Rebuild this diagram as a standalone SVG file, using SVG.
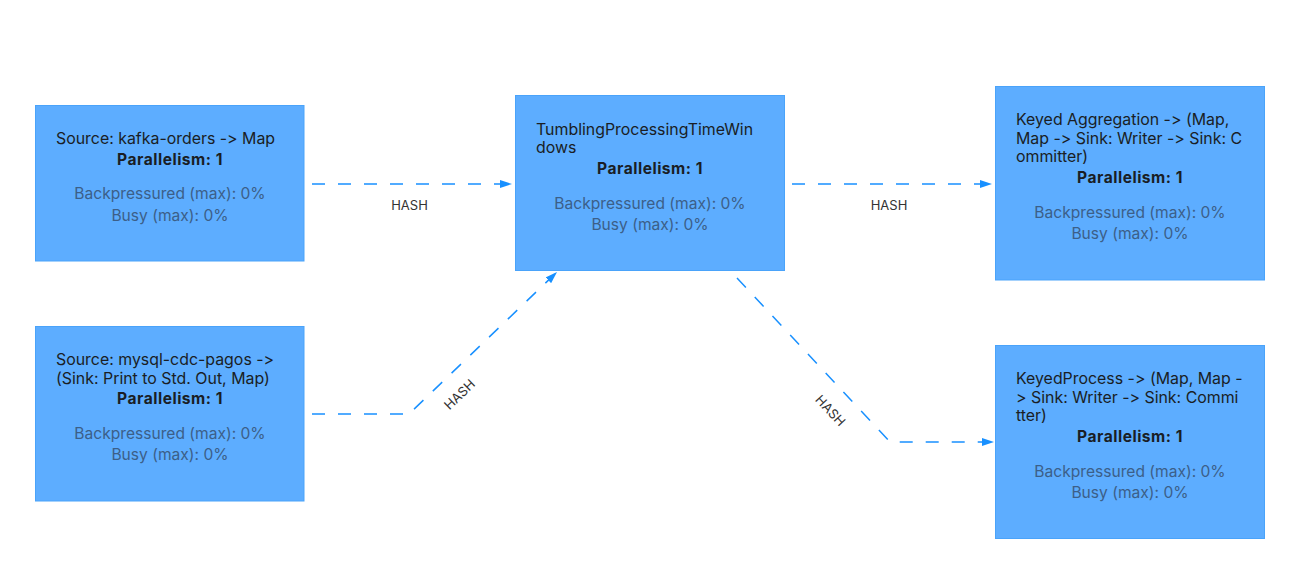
<svg xmlns="http://www.w3.org/2000/svg" width="1304" height="565" viewBox="0 0 1304 565">
<defs>
<marker id="arrow" markerUnits="userSpaceOnUse" markerWidth="12" markerHeight="8" refX="12" refY="4" orient="auto"><path d="M0,0 L12,4 L0,8 z" fill="#1890ff"/></marker>
</defs>
<style>
.node rect{fill:#5dadff;stroke:#4aa3fa;stroke-width:1}
.t{font-family:Inter,"Liberation Sans",sans-serif;font-size:15.6px;fill:#1a1e25;font-variant-ligatures:none;font-feature-settings:"calt" 0,"liga" 0}
.h{font-size:15.9px}
.p{font-weight:bold;text-anchor:middle;letter-spacing:0.5px}
.m{text-anchor:middle;fill:#3c5f88}
.edge{fill:none;stroke:#1890ff;stroke-width:1.5;stroke-dasharray:13 13;marker-end:url(#arrow)}
.lbl{font-family:Inter,"Liberation Sans",sans-serif;font-size:13px;fill:#333;text-anchor:middle}
</style>
<rect width="1304" height="565" fill="#fff"/>
<g id="connectors">
<path class="edge" d="M312,184 L512,184"/>
<path class="edge" d="M312,414 L409,414 L557,272"/>
<path class="edge" d="M792,184 L992,184"/>
<path class="edge" d="M737,278 L890,442 L994,442"/>
<text class="lbl" x="409.5" y="209.5">HASH</text>
<text class="lbl" x="889" y="209.5">HASH</text>
<text class="lbl" transform="translate(460,395) rotate(-44)" y="4">HASH</text>
<text class="lbl" transform="translate(830,411) rotate(47)" y="4">HASH</text>
</g>
<g id="node-kafka" class="node">
<rect x="35.5" y="105.5" width="268.5" height="155.5"/>
<text class="t h" x="56" y="144">Source: kafka-orders -&gt; Map</text>
<text class="t p" x="170" y="164.5">Parallelism: 1</text>
<text class="t m" x="170" y="199">Backpressured (max): 0%</text>
<text class="t m" x="170" y="220.5">Busy (max): 0%</text>
</g>
<g id="node-mysql" class="node">
<rect x="35.5" y="326.5" width="268.5" height="174.5"/>
<text class="t h" x="56" y="364.5">Source: mysql-cdc-pagos -&gt;</text>
<text class="t h" x="56" y="383.5">(Sink: Print to Std. Out, Map)</text>
<text class="t p" x="170" y="404">Parallelism: 1</text>
<text class="t m" x="170" y="439">Backpressured (max): 0%</text>
<text class="t m" x="170" y="460">Busy (max): 0%</text>
</g>
<g id="node-window" class="node">
<rect x="515.5" y="95.5" width="269" height="175"/>
<text class="t h" x="536" y="134.5">TumblingProcessingTimeWin</text>
<text class="t h" x="536" y="153">dows</text>
<text class="t p" x="650" y="173.5">Parallelism: 1</text>
<text class="t m" x="650" y="209">Backpressured (max): 0%</text>
<text class="t m" x="650" y="230">Busy (max): 0%</text>
</g>
<g id="node-aggregation" class="node">
<rect x="995.5" y="86.5" width="269" height="193.5"/>
<text class="t h" x="1016" y="124.5">Keyed Aggregation -&gt; (Map,</text>
<text class="t h" x="1016" y="143.5">Map -&gt; Sink: Writer -&gt; Sink: C</text>
<text class="t h" x="1016" y="162">ommitter)</text>
<text class="t p" x="1130" y="183">Parallelism: 1</text>
<text class="t m" x="1130" y="218">Backpressured (max): 0%</text>
<text class="t m" x="1130" y="239">Busy (max): 0%</text>
</g>
<g id="node-process" class="node">
<rect x="995.5" y="345.5" width="269" height="193"/>
<text class="t h" x="1016" y="384">KeyedProcess -&gt; (Map, Map -</text>
<text class="t h" x="1016" y="402.5">&gt; Sink: Writer -&gt; Sink: Commi</text>
<text class="t h" x="1016" y="421">tter)</text>
<text class="t p" x="1130" y="442">Parallelism: 1</text>
<text class="t m" x="1130" y="477">Backpressured (max): 0%</text>
<text class="t m" x="1130" y="498">Busy (max): 0%</text>
</g>
</svg>
